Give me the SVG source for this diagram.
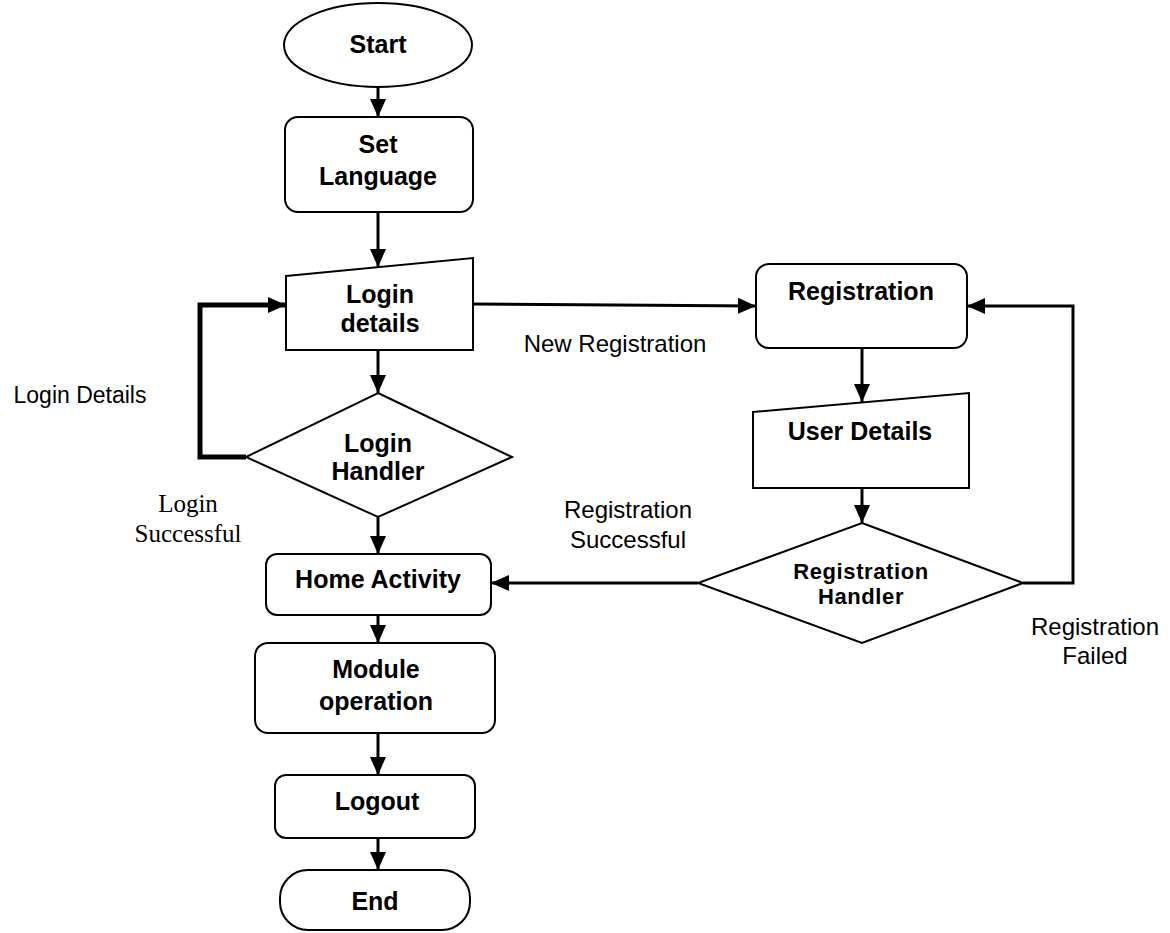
<svg xmlns="http://www.w3.org/2000/svg" width="1170" height="933" viewBox="0 0 1170 933">
  <style>
    .shape { fill: #ffffff; stroke: #000000; stroke-width: 2; }
    .node-text { font-family: "Liberation Sans", Arial, sans-serif; font-weight: bold; font-size: 25px; fill: #000000; text-anchor: middle; }
    .small-node-text { font-family: "Liberation Sans", Arial, sans-serif; font-weight: bold; font-size: 22px; letter-spacing: 0.6px; fill: #000000; text-anchor: middle; }
    .label { font-family: "Liberation Sans", Arial, sans-serif; font-size: 24px; fill: #000000; text-anchor: middle; }
    .label-serif { font-family: "Liberation Serif", "Times New Roman", serif; font-size: 25px; fill: #000000; text-anchor: middle; }
    .conn { fill: none; stroke: #000000; stroke-width: 3; marker-end: url(#arrow); }
    .conn-thick { fill: none; stroke: #000000; stroke-width: 5; marker-end: url(#arrow); }
  </style>
  <defs>
    <marker id="arrow" markerUnits="userSpaceOnUse" markerWidth="20" markerHeight="20" viewBox="0 0 20 20" refX="18" refY="10" orient="auto">
      <path d="M0,2 L18,10 L0,18 Z" fill="#000000"/>
    </marker>
  </defs>

  <rect width="1170" height="933" fill="#ffffff"/>

  <!-- connectors -->
  <g id="connectors">
    <path class="conn" d="M378,88 V117"/>
    <path class="conn" d="M378,212 V267"/>
    <path class="conn" d="M378,350 V393"/>
    <path class="conn-thick" d="M246,457 H200 V305 H286"/>
    <path class="conn" d="M378,517 V554"/>
    <path class="conn" d="M378,615 V643"/>
    <path class="conn" d="M378,733 V775"/>
    <path class="conn" d="M378,838 V870"/>
    <path class="conn" d="M473,304 L756,306"/>
    <path class="conn" d="M862,348 V402"/>
    <path class="conn" d="M862,488 V523"/>
    <path class="conn" d="M698,583 H491"/>
    <path class="conn" d="M1023,583 H1073 V306 H967"/>
  </g>

  <!-- connector labels -->
  <g id="labels">
    <text class="label" x="615" y="352">New Registration</text>
    <text class="label" x="80" y="403" style="font-size:23px">Login Details</text>
    <text class="label-serif" x="188" y="512">Login</text>
    <text class="label-serif" x="188" y="542">Successful</text>
    <text class="label" x="628" y="518">Registration</text>
    <text class="label" x="628" y="548">Successful</text>
    <text class="label" x="1095" y="635">Registration</text>
    <text class="label" x="1095" y="664">Failed</text>
  </g>

  <g id="start">
    <ellipse class="shape" cx="378" cy="45" rx="94" ry="42"/>
    <text class="node-text" x="378" y="53">Start</text>
  </g>

  <g id="set-language">
    <rect class="shape" x="285" y="117" width="188" height="95" rx="13"/>
    <text class="node-text" x="378" y="153">Set</text>
    <text class="node-text" x="378" y="185">Language</text>
  </g>

  <g id="login-details">
    <path class="shape" d="M286,276 L473,258 V350 H286 Z"/>
    <text class="node-text" x="380" y="303">Login</text>
    <text class="node-text" x="380" y="332">details</text>
  </g>

  <g id="login-handler">
    <path class="shape" d="M378,393 L512,457 L378,517 L246,457 Z"/>
    <text class="node-text" x="378" y="452">Login</text>
    <text class="node-text" x="378" y="480">Handler</text>
  </g>

  <g id="home-activity">
    <rect class="shape" x="266" y="554" width="225" height="61" rx="11"/>
    <text class="node-text" x="378" y="588">Home Activity</text>
  </g>

  <g id="module-operation">
    <rect class="shape" x="255" y="643" width="240" height="90" rx="13"/>
    <text class="node-text" x="376" y="678">Module</text>
    <text class="node-text" x="376" y="710">operation</text>
  </g>

  <g id="logout">
    <rect class="shape" x="275" y="775" width="200" height="63" rx="11"/>
    <text class="node-text" x="377" y="810">Logout</text>
  </g>

  <g id="end">
    <rect class="shape" x="280" y="870" width="190" height="60" rx="28"/>
    <text class="node-text" x="375" y="910">End</text>
  </g>

  <g id="registration">
    <rect class="shape" x="756" y="264" width="211" height="84" rx="13"/>
    <text class="node-text" x="861" y="300">Registration</text>
  </g>

  <g id="user-details">
    <path class="shape" d="M753,412 L969,393 V488 H753 Z"/>
    <text class="node-text" x="860" y="440">User Details</text>
  </g>

  <g id="registration-handler">
    <path class="shape" d="M862,523 L1023,583 L862,643 L698,583 Z"/>
    <text class="small-node-text" x="861" y="579">Registration</text>
    <text class="small-node-text" x="861" y="604">Handler</text>
  </g>
</svg>
